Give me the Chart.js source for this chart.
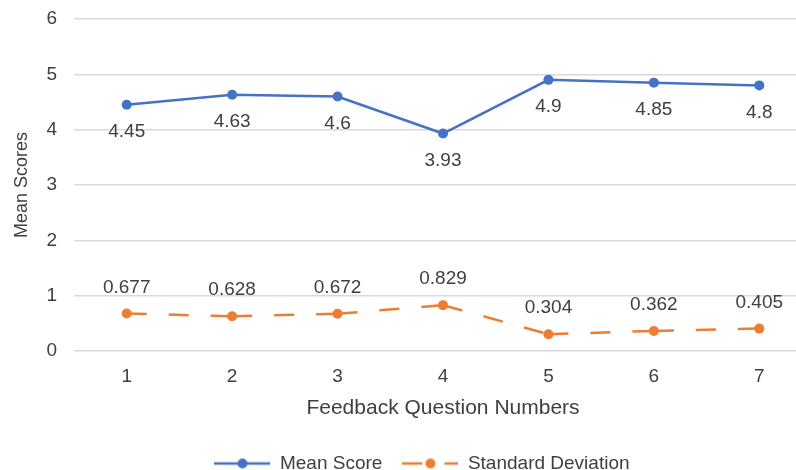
<!DOCTYPE html>
<html>
<head>
<meta charset="utf-8">
<title>Feedback scores</title>
<script src="https://cdn.jsdelivr.net/npm/chart.js@4.4.1/dist/chart.umd.min.js"></script>
<style>
  html, body { margin: 0; padding: 0; background: #ffffff; overflow: hidden; }
  #wrap { width: 846px; height: 470px; }
</style>
</head>
<body>
<div id="wrap"><canvas id="chart" width="846" height="470"></canvas></div>
<script>
// Question numbers, per-question mean score and standard deviation
const questions = ['1', '2', '3', '4', '5', '6', '7'];
const meanScores = [4.45, 4.63, 4.6, 3.93, 4.9, 4.85, 4.8];
const stdDevs = [0.677, 0.628, 0.672, 0.829, 0.304, 0.362, 0.405];
const yTickValues = [0, 1, 2, 3, 4, 5, 6];

const FONT = '"Liberation Sans", Arial, Helvetica, sans-serif';
const TEXT = '#404040';
const BLUE = '#4472C4';
const ORANGE = '#ED7D31';

// Line-with-marker swatch used in the legend
function legendSymbol(color, dashed) {
  const c = document.createElement('canvas');
  c.width = 56; c.height = 12;
  const g = c.getContext('2d');
  g.strokeStyle = color;
  g.lineWidth = 2.5;
  if (dashed) g.setLineDash([20, 22]);
  g.beginPath(); g.moveTo(0, 6); g.lineTo(56, 6); g.stroke();
  g.setLineDash([]);
  g.fillStyle = color;
  g.beginPath(); g.arc(28, 6, 5, 0, Math.PI * 2); g.fill();
  return c;
}

// Value labels: below the mean points, above the deviation points
const labelOffsets = [27, -26];
const valueLabels = {
  id: 'valueLabels',
  afterDatasetsDraw(chart) {
    const ctx = chart.ctx;
    ctx.save();
    ctx.font = '19px ' + FONT;
    ctx.fillStyle = TEXT;
    ctx.textAlign = 'center';
    ctx.textBaseline = 'middle';
    chart.data.datasets.forEach((ds, i) => {
      const meta = chart.getDatasetMeta(i);
      meta.data.forEach((pt, j) => {
        ctx.fillText(String(ds.data[j]), pt.x, pt.y + labelOffsets[i]);
      });
    });
    ctx.restore();
  }
};

const symbols = [legendSymbol(BLUE, false), legendSymbol(ORANGE, true)];

new Chart(document.getElementById('chart'), {
  type: 'line',
  data: {
    labels: questions,
    datasets: [
      {
        label: 'Mean Score',
        data: meanScores,
        borderColor: BLUE,
        backgroundColor: BLUE,
        borderWidth: 2.5,
        pointRadius: 5,
        pointBorderWidth: 0,
        pointBackgroundColor: BLUE,
        tension: 0
      },
      {
        label: 'Standard Deviation',
        data: stdDevs,
        borderColor: ORANGE,
        backgroundColor: ORANGE,
        borderWidth: 2.5,
        borderDash: [20, 22],
        pointRadius: 5,
        pointBorderWidth: 0,
        pointBackgroundColor: ORANGE,
        tension: 0,
        // restart the dash pattern at every point
        segment: {
          borderDashOffset: ctx => (ctx.p0DataIndex % 2 ? 0.0001 : 0)
        }
      }
    ]
  },
  options: {
    responsive: false,
    devicePixelRatio: 1,
    animation: false,
    layout: { padding: { left: 32, right: 34, top: 19, bottom: -13 } },
    plugins: {
      tooltip: { enabled: false },
      legend: {
        position: 'bottom',
        labels: {
          usePointStyle: true,
          pointStyleWidth: 56,
          padding: 20,
          color: TEXT,
          font: { family: FONT, size: 19 },
          generateLabels: chart => chart.data.datasets.map((ds, i) => ({
            text: ds.label,
            pointStyle: symbols[i],
            fillStyle: ds.borderColor,
            strokeStyle: ds.borderColor,
            lineWidth: 0,
            fontColor: TEXT,
            hidden: false,
            datasetIndex: i
          }))
        }
      }
    },
    scales: {
      x: {
        offset: true,
        grid: { display: false },
        border: { display: false },
        ticks: { color: TEXT, font: { family: FONT, size: 19 }, padding: 6 },
        title: {
          display: true,
          text: 'Feedback Question Numbers',
          color: TEXT,
          font: { family: FONT, size: 21 },
          padding: { top: 4, bottom: 13 }
        },
        afterFit: scale => { scale.height = 83; }
      },
      y: {
        min: 0,
        max: 6,
        afterBuildTicks: scale => { scale.ticks = yTickValues.map(v => ({ value: v })); },
        grid: { color: '#d9d9d9', lineWidth: 1.5, drawTicks: false },
        border: { display: false },
        ticks: { color: TEXT, font: { family: FONT, size: 19 }, padding: 17 },
        title: {
          display: true,
          text: 'Mean Scores',
          color: TEXT,
          font: { family: FONT, size: 18 },
          padding: { top: -21, bottom: 4 }
        },
        afterFit: scale => {
          scale.width = 42;
          scale.paddingTop = 0;
          scale.paddingBottom = 0;
        }
      }
    }
  },
  plugins: [valueLabels]
});
</script>
</body>
</html>
